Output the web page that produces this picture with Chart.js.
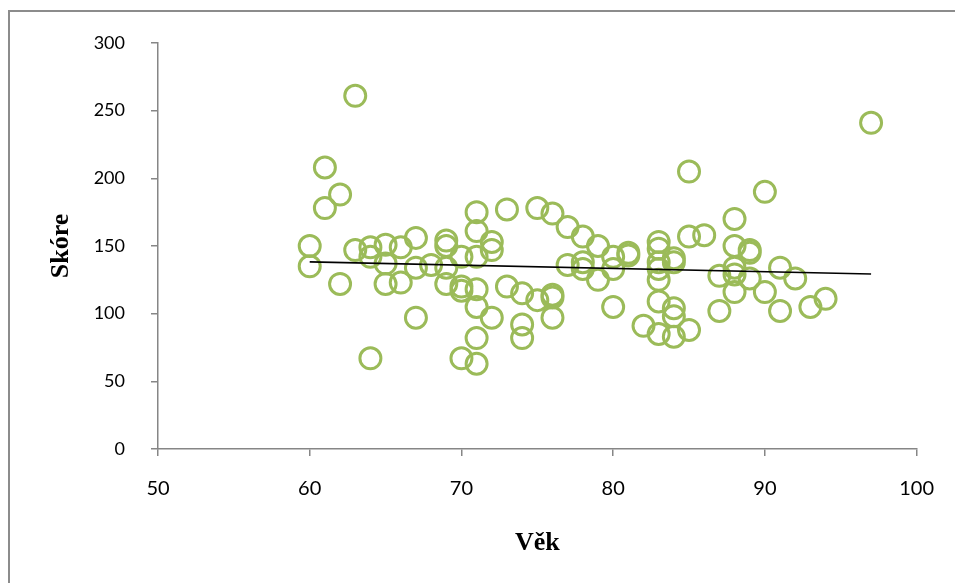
<!DOCTYPE html>
<html>
<head>
<meta charset="utf-8">
<title>Věk a skóre</title>
<script src="https://cdn.jsdelivr.net/npm/chart.js@4/dist/chart.umd.min.js"></script>
<style>
  body {
    margin: 0;
    background: #fff;
    overflow: hidden;
  }
  .frame {
    position: absolute;
    left: 8px;
    top: 10px;
    width: 1000px;
    height: 620px;
    border: 2px solid #8c8c8c;
  }
  #chart {
    position: absolute;
    left: 0;
    top: 0;
  }
</style>
</head>
<body>
<div class="frame"></div>
<canvas id="chart" width="955" height="583"></canvas>

<script>
// vek (x) a skore (y)
const ages = [
  60, 60, 61, 61, 62, 62, 63, 63, 64, 64, 64,
  65, 65, 65, 66, 66, 67, 67, 67, 68,
  69, 69, 69, 69, 70, 70, 70, 70,
  71, 71, 71, 71, 71, 71, 71, 72, 72, 72,
  73, 73, 74, 74, 74, 75, 75, 76, 76, 76, 76,
  77, 77, 78, 78, 78, 79, 79, 80, 80, 80, 81, 81, 82,
  83, 83, 83, 83, 83, 83, 83, 84, 84, 84, 84, 84,
  85, 85, 85, 86, 87, 87, 88, 88, 88, 88, 88,
  89, 89, 89, 90, 90, 91, 91, 92, 93, 94, 97
];
const scores = [
  150, 135, 208, 178, 188, 122, 261, 147, 149, 142, 67,
  151, 137, 122, 149, 123, 156, 134, 97, 136,
  154, 150, 134, 122, 142, 120, 117, 67,
  175, 161, 142, 118, 105, 82, 63, 153, 147, 97,
  177, 120, 115, 92, 82, 178, 110, 174, 114, 112, 97,
  164, 136, 157, 138, 133, 150, 125, 142, 133, 105, 145, 143, 91,
  153, 148, 138, 133, 125, 109, 85, 141, 138, 104, 98, 83,
  205, 157, 88, 158, 128, 102, 170, 150, 134, 129, 116,
  147, 145, 126, 190, 116, 134, 102, 126, 105, 111, 241
];

// lineární trend
const trendAges = [60, 97];
const trendScores = [138.3, 129.3];

const xTicks = [50, 60, 70, 80, 90, 100];
const yTicks = [0, 50, 100, 150, 200, 250, 300];

const axisColor = "#868686";
const green = "#9bbb59";

const points = ages.map((a, i) => ({ x: a, y: scores[i] }));
const trend = trendAges.map((a, i) => ({ x: a, y: trendScores[i] }));

const yTickFont = { family: "Lato, 'Open Sans', sans-serif", size: 18 };
const xTickFont = { family: "Lato, 'Open Sans', sans-serif", size: 20 };
const titleFont = { family: "'Liberation Serif', 'DejaVu Serif', serif", size: 26, weight: "bold" };

new Chart(document.getElementById("chart"), {
  type: "scatter",
  data: {
    datasets: [
      {
        label: "Trend",
        data: trend,
        showLine: true,
        borderColor: "#000",
        borderWidth: 1.6,
        pointRadius: 0,
        pointHoverRadius: 0,
      },
      {
        label: "Skóre",
        data: points,
        pointStyle: "circle",
        pointRadius: 10.5,
        pointHoverRadius: 10.5,
        borderWidth: 3,
        pointBorderWidth: 3,
        borderColor: green,
        backgroundColor: "rgba(0,0,0,0)",
      },
    ],
  },
  options: {
    responsive: false,
    devicePixelRatio: 1,
    animation: false,
    events: [],
    layout: {
      padding: { left: 0, top: 43, right: 37, bottom: 0 },
    },
    plugins: {
      legend: { display: false },
      tooltip: { enabled: false },
    },
    scales: {
      x: {
        type: "linear",
        min: xTicks[0],
        max: xTicks[xTicks.length - 1],
        afterBuildTicks: (scale) => {
          scale.ticks = xTicks.map((v) => ({ value: v }));
        },
        afterFit: (scale) => {
          scale.height = 134;
        },
        ticks: {
          color: "#000",
          font: xTickFont,
          padding: 21,
          maxRotation: 0,
        },
        grid: {
          drawOnChartArea: false,
          drawTicks: true,
          tickLength: 7,
          color: axisColor,
          lineWidth: 1.5,
        },
        border: { color: axisColor, width: 1.5 },
        title: {
          display: true,
          text: "Věk",
          color: "#000",
          font: titleFont,
          padding: { top: 0, bottom: 24 },
        },
      },
      y: {
        type: "linear",
        min: yTicks[0],
        max: yTicks[yTicks.length - 1],
        afterBuildTicks: (scale) => {
          scale.ticks = yTicks.map((v) => ({ value: v }));
        },
        afterFit: (scale) => {
          scale.width = 158;
        },
        ticks: {
          color: "#000",
          font: yTickFont,
          padding: 26,
        },
        grid: {
          drawOnChartArea: false,
          drawTicks: true,
          tickLength: 7,
          color: axisColor,
          lineWidth: 1.5,
        },
        border: { color: axisColor, width: 1.5 },
        title: {
          display: true,
          text: "Skóre",
          color: "#000",
          font: titleFont,
          padding: { top: 46, bottom: 0 },
        },
      },
    },
  },
});
</script>
</body>
</html>
